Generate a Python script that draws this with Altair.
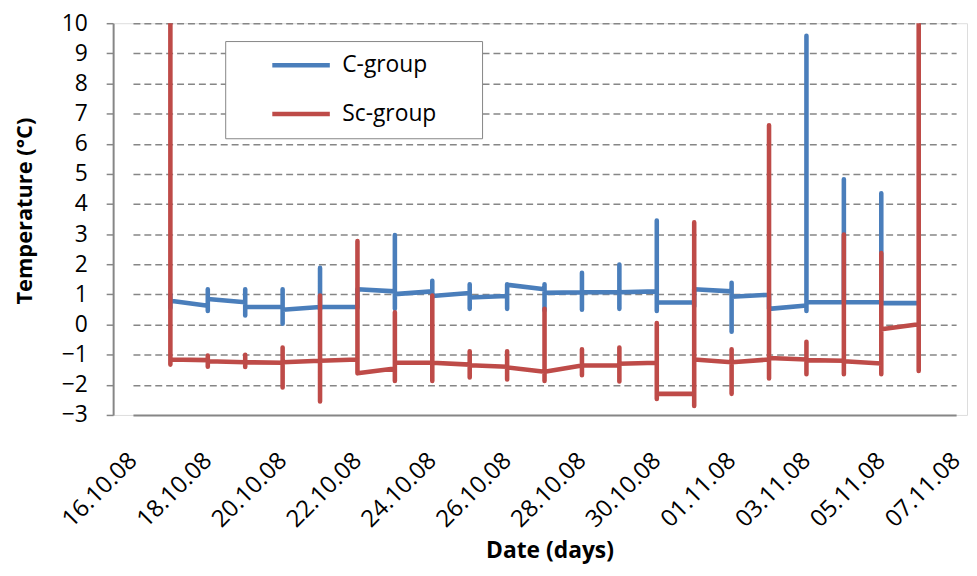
import altair as alt
import pandas as pd

# Axis categories (one slot per day)
axis_days = ["16.10.08", "17.10.08", "18.10.08", "19.10.08", "20.10.08", "21.10.08",
             "22.10.08", "23.10.08", "24.10.08", "25.10.08", "26.10.08", "27.10.08",
             "28.10.08", "29.10.08", "30.10.08", "31.10.08", "01.11.08", "02.11.08",
             "03.11.08", "04.11.08", "05.11.08", "06.11.08", "07.11.08"]
label_days = ["16.10.08", "18.10.08", "20.10.08", "22.10.08", "24.10.08", "26.10.08",
              "28.10.08", "30.10.08", "01.11.08", "03.11.08", "05.11.08", "07.11.08"]
days = ["17.10.08", "18.10.08", "19.10.08", "20.10.08", "21.10.08", "22.10.08",
        "23.10.08", "24.10.08", "25.10.08", "26.10.08", "27.10.08", "28.10.08",
        "29.10.08", "30.10.08", "31.10.08", "01.11.08", "02.11.08", "03.11.08",
        "04.11.08", "05.11.08", "06.11.08"]

# C-group: first reading of the day, daily max, daily min, last reading of the day
c_entry = [0.80, 0.62, 0.74, 0.58, 0.58, 0.58, 1.10, 1.10, 1.05, 0.95, 1.17,
           1.07, 1.07, 1.10, 0.73, 1.10, 0.99, 0.63, 0.74, 0.74, 0.71]
c_high = [1.00, 1.17, 1.17, 1.17, 1.88, 1.17, 2.97, 1.45, 1.34, 1.34, 1.34,
          1.72, 1.99, 3.45, 1.17, 1.39, 1.01, 9.58, 4.82, 4.36, 0.71]
c_low = [0.55, 0.45, 0.30, 0.03, 0.50, 0.55, 0.52, 0.90, 0.52, 0.52, 0.47,
         0.49, 0.52, 0.45, 0.60, -0.24, 0.52, 0.45, 0.70, 0.70, 0.71]
c_exit = [0.79, 0.85, 0.58, 0.49, 0.58, 1.17, 1.01, 0.95, 0.90, 1.32, 1.05,
          1.07, 1.07, 0.73, 1.17, 0.92, 0.52, 0.74, 0.74, 0.72, 0.71]

# Sc-group
sc_entry = [12.0, -1.18, -1.25, -1.27, -1.20, -1.16, -1.46, -1.27, -1.33, -1.40, -1.57,
            -1.36, -1.36, -1.27, -2.30, -1.25, -1.16, -1.16, -1.20, -1.29, 0.01]
sc_high = [12.0, -1.03, -1.00, -0.76, 0.96, 2.77, 0.41, 0.96, -0.89, -0.89, 0.52,
           -0.82, -0.76, 0.05, 3.39, -0.82, 6.61, -0.57, 2.99, 2.37, 12.0]
sc_low = [-1.33, -1.40, -1.41, -2.09, -2.55, -1.62, -1.87, -1.87, -1.76, -1.82, -1.87,
          -1.68, -1.89, -2.47, -2.70, -2.30, -1.79, -1.65, -1.65, -1.65, -1.54]
sc_exit = [-1.16, -1.22, -1.25, -1.25, -1.20, -1.62, -1.27, -1.27, -1.35, -1.42, -1.57,
           -1.36, -1.30, -2.30, -1.16, -1.25, -1.11, -1.18, -1.22, -0.16, -1.54]

groups = ["C-group", "Sc-group"]
colors = ["#4A7EBB", "#BE4B48"]


def build(name, entry, high, low, exit_):
    rows = []
    seq = 0
    for d, a, h, l, e in zip(days, entry, high, low, exit_):
        for v in (a, h, l, e):
            rows.append({"day": d, "temp": v, "seq": seq, "group": name})
            seq += 1
    return pd.DataFrame(rows)


df_c = build(groups[0], c_entry, c_high, c_low, c_exit)
df_sc = build(groups[1], sc_entry, sc_high, sc_low, sc_exit)

FONT = "Open Sans"
GREY = "#868686"

x_enc = alt.X(
    "day:N",
    scale=alt.Scale(type="point", domain=axis_days, padding=0, range=[20, 850]),
    axis=alt.Axis(
        values=label_days, labelAngle=-45, labelAlign="right", labelBaseline="middle",
        labelPadding=42, ticks=False, grid=False, labelOverlap=False, domain=False,
        labelFont=FONT, labelFontSize=24, labelColor="black",
        title="Date (days)", titleFont=FONT, titleFontSize=23, titleFontWeight="bold",
        titleColor="black", titleX=440, titleY=137, titleAlign="center",
        titleBaseline="middle",
    ),
)
y_enc = alt.Y(
    "temp:Q",
    scale=alt.Scale(domain=[-3, 10], nice=False, zero=False),
    axis=alt.Axis(
        values=list(range(-3, 11)), grid=True,
        gridColor=GREY,
        gridDash=alt.condition("datum.value === -3", alt.value([]), alt.value([7, 4])),
        gridWidth=alt.condition("datum.value === -3", alt.value(2), alt.value(1.5)),
        domainColor=GREY, domainWidth=2, tickColor=GREY,
        tickSize=7, tickWidth=1.5, labelPadding=19, labelFont=FONT,
        labelFontSize=23, labelColor="black",
        title="Temperature (°C)", titleFont=FONT, titleFontSize=22,
        titleFontWeight="bold", titleColor="black", titleX=-89, titleY=189,
        titleAlign="center", titleBaseline="middle", titleAngle=-90,
    ),
)
color_enc = alt.Color(
    "group:N",
    scale=alt.Scale(domain=groups, range=colors),
    legend=alt.Legend(
        orient="none", legendX=113, legendY=18, title="\u00a0", titleOrient="right",
        titleFontSize=10, titlePadding=34, direction="vertical",
        symbolType="stroke", symbolStrokeWidth=4.5, symbolSize=3364,
        labelFont=FONT, labelFontSize=23, labelColor="black",
        padding=12, strokeColor=GREY, fillColor="white", clipHeight=25,
        symbolOffset=33, labelOffset=10, rowPadding=24,
    ),
)

line_kw = dict(strokeWidth=4.6, strokeCap="round", strokeJoin="round", clip=True)

c_line = alt.Chart(df_c).mark_line(**line_kw).encode(
    x=x_enc, y=y_enc, color=color_enc, order=alt.Order("seq:Q"))
sc_line = alt.Chart(df_sc).mark_line(**line_kw).encode(
    x=x_enc, y=y_enc, color=color_enc, order=alt.Order("seq:Q"))

chart = alt.layer(c_line, sc_line).properties(
    width=861, height=395,
    padding={"left": 106, "top": 13, "right": 2, "bottom": 152},
    autosize=alt.AutoSizeParams(type="none"),
).configure_view(stroke=None).configure(background="white")

chart.save("out.html", embed_options={"renderer": "svg", "actions": False})
